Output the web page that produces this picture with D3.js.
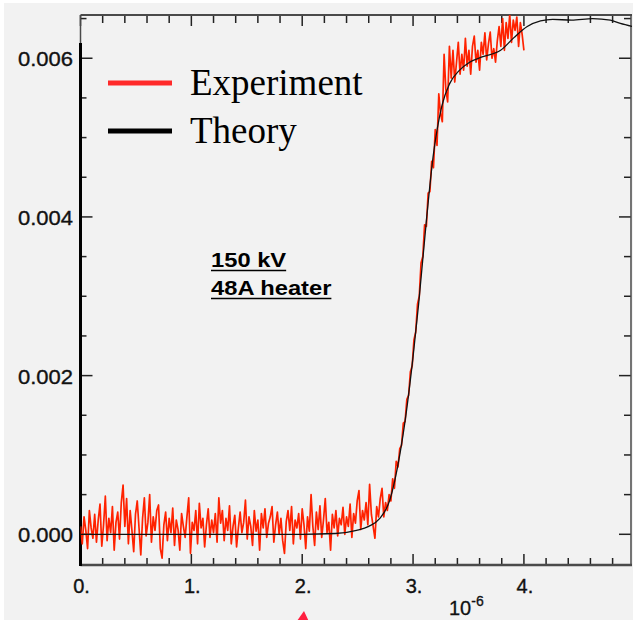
<!DOCTYPE html>
<html><head><meta charset="utf-8">
<script src="https://cdn.jsdelivr.net/npm/d3@7"></script>
<style>html,body{margin:0;padding:0;background:#fff;} svg{display:block;}</style>
</head><body>
<svg id="chart" width="633" height="620"></svg>
<script>
// ---- data (y values in units of 10^-3, x in units of 10^-6) ----
const seriesNames = ["Experiment", "Theory"];
const xTickValues = [0, 1, 2, 3, 4];
const xTickLabels = ["0.", "1.", "2.", "3.", "4."];
const yTickValues = [0, 2, 4, 6];
const yTickLabels = ["0.000", "0.002", "0.004", "0.006"];
const annotationLines = ["150 kV", "48A heater"];

const theoryX = [0, 0.5, 1.0, 1.5, 2.0, 2.3, 2.49, 2.6, 2.70, 2.79, 2.88, 2.94, 3.00, 3.05, 3.12, 3.18, 3.26, 3.33, 3.42, 3.51, 3.63, 3.79, 3.91, 4.03, 4.15, 4.26, 4.43, 4.62, 4.78, 4.87, 4.98];
const theoryY = [0, 0, 0, 0, 0, 0.01, 0.05, 0.10, 0.20, 0.43, 1.0, 1.55, 2.24, 2.9, 3.95, 4.75, 5.4, 5.68, 5.85, 5.95, 6.02, 6.1, 6.26, 6.4, 6.47, 6.49, 6.48, 6.5, 6.48, 6.44, 6.40];

const expStart = 0, expStep = 0.016;
const expY = [
 0.10,-0.12,0.22,0.05,-0.18,0.30,0.08,-0.05,0.25,-0.10,
 0.18,0.38,-0.15,0.12,0.48,-0.08,0.20,0.02,0.35,-0.20,
 0.15,0.28,-0.06,0.40,0.62,0.10,0.45,-0.12,0.30,0.05,
 -0.22,0.25,0.42,0.08,-0.26,0.20,0.46,-0.02,0.15,0.50,
 -0.10,0.22,0.05,0.30,0.37,-0.18,-0.30,0.12,0.28,-0.08,
 0.20,0.02,0.33,-0.14,0.18,0.06,-0.20,0.26,0.10,-0.04,
 0.22,0.46,-0.24,0.15,0.05,0.30,-0.12,0.39,0.08,0.20,
 -0.16,0.12,0.32,-0.04,0.18,0.02,0.26,-0.10,0.46,0.14,
 0.30,-0.08,0.20,0.05,0.36,-0.12,0.10,0.24,-0.16,0.08,
 0.28,0.02,0.15,0.43,-0.06,0.22,0.10,-0.14,0.30,0.04,
 0.18,-0.20,0.26,0.08,0.32,-0.04,0.14,0.22,0.35,-0.10,
 0.12,0.28,0.00,0.20,-0.08,-0.24,0.16,0.30,0.05,0.35,
 -0.12,0.18,0.08,0.26,-0.06,0.32,0.12,-0.18,0.22,0.04,
 0.50,0.10,-0.14,0.28,0.06,0.36,-0.04,0.18,0.45,0.02,
 0.15,-0.20,0.25,0.08,0.30,-0.02,0.20,0.12,0.34,0.00,
 0.22,0.10,0.38,-0.04,0.26,0.14,0.42,0.55,0.06,0.30,
 0.18,0.40,0.12,0.63,0.25,0.10,-0.05,0.35,0.22,0.45,
 0.58,0.22,0.40,0.30,0.50,0.42,0.70,0.58,0.92,0.85,
 1.08,1.12,1.40,1.42,1.70,1.75,2.05,2.12,2.45,2.55,
 2.90,3.00,3.42,3.50,3.90,3.88,4.30,4.32,4.70,4.62,
 5.10,4.90,5.55,5.30,5.20,6.05,5.60,5.45,6.15,5.75,
 6.10,5.70,5.95,6.20,5.80,6.05,5.85,6.25,5.90,6.10,
 5.80,6.15,6.28,5.95,6.10,5.85,6.20,6.05,6.32,5.98,
 6.18,6.33,6.00,6.12,5.95,6.22,6.40,6.15,6.50,6.10,
 6.45,6.25,6.55,6.20,6.48,6.35,6.52,6.15,6.45,6.30,6.10
];

// ---- layout ----
const W = 633, H = 620;
const plot = {left: 80.5, right: 632, top: 15, bottom: 565};
const svg = d3.select("#chart");

svg.append("rect").attr("x", 4).attr("y", 3).attr("width", W - 4).attr("height", H - 3).attr("fill", "#f2f2f2");

const x = d3.scaleLinear().domain([0, 4.975]).range([plot.left, plot.right]);
const y = d3.scaleLinear().domain([-0.387, 6.545]).range([plot.bottom, plot.top]);

const frameColor = "#4a4a4a";
const tickColor = "#222";

// minor / major tick positions (every 0.2 in x, every 0.5 in y)
const xTicksAll = d3.range(0, 25).map(i => ({v: i * 0.2, major: i % 5 === 0}));
const yTicksAll = d3.range(0, 14).map(i => ({v: i * 0.5, major: i % 4 === 0}));

const tg = svg.append("g").attr("stroke", tickColor).attr("stroke-width", 1.5);
// bottom ticks (inside, pointing up)
tg.selectAll("line.xb").data(xTicksAll).join("line").attr("class", "xb")
  .attr("x1", d => x(d.v)).attr("x2", d => x(d.v))
  .attr("y1", plot.bottom).attr("y2", d => plot.bottom - (d.major ? 11 : 7));
// top ticks (inside, pointing down)
tg.selectAll("line.xt").data(xTicksAll).join("line").attr("class", "xt")
  .attr("x1", d => x(d.v)).attr("x2", d => x(d.v))
  .attr("y1", plot.top).attr("y2", d => plot.top + (d.major ? 11 : 8));
// left ticks
tg.selectAll("line.yl").data(yTicksAll).join("line").attr("class", "yl")
  .attr("x1", plot.left).attr("x2", d => plot.left + (d.major ? 12 : 6))
  .attr("y1", d => y(d.v)).attr("y2", d => y(d.v));
// right ticks
tg.selectAll("line.yr").data(yTicksAll).join("line").attr("class", "yr")
  .attr("x1", plot.right - 1).attr("x2", d => plot.right - 1 - (d.major ? 12 : 7))
  .attr("y1", d => y(d.v)).attr("y2", d => y(d.v));

// frame
svg.append("line").attr("x1", plot.left).attr("x2", plot.right).attr("y1", plot.top).attr("y2", plot.top).attr("stroke", frameColor).attr("stroke-width", 2);
svg.append("line").attr("x1", plot.left).attr("x2", plot.right).attr("y1", plot.bottom).attr("y2", plot.bottom).attr("stroke", frameColor).attr("stroke-width", 2.5);
svg.append("line").attr("x1", plot.right - 1).attr("x2", plot.right - 1).attr("y1", plot.top).attr("y2", plot.bottom).attr("stroke", frameColor).attr("stroke-width", 1.5);
svg.append("line").attr("x1", plot.left).attr("x2", plot.left).attr("y1", plot.top).attr("y2", 43).attr("stroke", frameColor).attr("stroke-width", 1.5);
svg.append("line").attr("x1", plot.left).attr("x2", plot.left).attr("y1", 43).attr("y2", plot.bottom + 1).attr("stroke", "#000").attr("stroke-width", 3);

// tick labels
const labelFont = "'Liberation Sans', Arial, Helvetica, sans-serif";
svg.append("g").selectAll("text").data(yTickValues).join("text")
  .attr("transform", d => `translate(73,${y(d) + 8}) scale(1.1,1)`)
  .attr("text-anchor", "end")
  .attr("font-family", labelFont).attr("font-size", 20).attr("fill", "#111")
  .attr("stroke", "#111").attr("stroke-width", 0.35)
  .text((d, i) => yTickLabels[i]);

svg.append("g").selectAll("text").data(xTickValues).join("text")
  .attr("x", d => x(d) + 1).attr("y", 593)
  .attr("text-anchor", "middle")
  .attr("font-family", labelFont).attr("font-size", 20).attr("fill", "#111")
  .attr("stroke", "#111").attr("stroke-width", 0.35)
  .text((d, i) => xTickLabels[i]);

// exponent label
const expLab = svg.append("text").attr("x", 449).attr("y", 615)
  .attr("font-family", labelFont).attr("font-size", 20).attr("fill", "#111")
  .attr("stroke", "#111").attr("stroke-width", 0.3);
expLab.append("tspan").text("10");
expLab.append("tspan").attr("font-size", 14).attr("dy", -9).text("-6");

// clip for data
svg.append("clipPath").attr("id", "plotclip").append("rect")
  .attr("x", plot.left).attr("y", plot.top).attr("width", plot.right - plot.left).attr("height", plot.bottom - plot.top);

// experiment (red)
const expData = expY.map((v, i) => [expStart + i * expStep, v]);
const line = d3.line().x(d => x(d[0])).y(d => y(d[1]));
svg.append("path").datum(expData)
  .attr("clip-path", "url(#plotclip)")
  .attr("d", line)
  .attr("fill", "none").attr("stroke", "#ff2200").attr("stroke-width", 1.7).attr("stroke-linejoin", "round");

// theory (black)
const theoryData = theoryX.map((v, i) => [v, theoryY[i]]);
svg.append("path").datum(theoryData)
  .attr("clip-path", "url(#plotclip)")
  .attr("d", d3.line().x(d => x(d[0])).y(d => y(d[1])).curve(d3.curveMonotoneX))
  .attr("fill", "none").attr("stroke", "#111").attr("stroke-width", 1.3);

// legend
const legendColors = ["#ff2a2a", "#000"];
const legendY = [83, 131];
const lg = svg.append("g");
seriesNames.forEach((name, i) => {
  lg.append("line").attr("x1", 108).attr("x2", 172).attr("y1", legendY[i]).attr("y2", legendY[i])
    .attr("stroke", legendColors[i]).attr("stroke-width", 5);
  lg.append("text").attr("x", 190).attr("y", legendY[i] + 12)
    .attr("font-family", "'Liberation Serif', 'Times New Roman', serif").attr("font-size", 37).attr("fill", "#000")
    .text(name);
});

// annotation
const annY = [267, 295];
annotationLines.forEach((t, i) => {
  const tx = svg.append("text")
    .attr("transform", `translate(211,${annY[i]}) scale(1.13,1)`)
    .attr("font-family", labelFont).attr("font-weight", "bold").attr("font-size", 21).attr("fill", "#000")
    .text(t);
  const w = tx.node().getComputedTextLength() * 1.13;
  svg.append("line").attr("x1", 211).attr("x2", 211 + w).attr("y1", annY[i] + 3.5).attr("y2", annY[i] + 3.5)
    .attr("stroke", "#000").attr("stroke-width", 1.5);
});

// partial red arrowhead at bottom edge
svg.append("path").attr("d", "M304,611 L292,628 L311,626 Z").attr("fill", "#ff2040");
</script>
</body></html>
